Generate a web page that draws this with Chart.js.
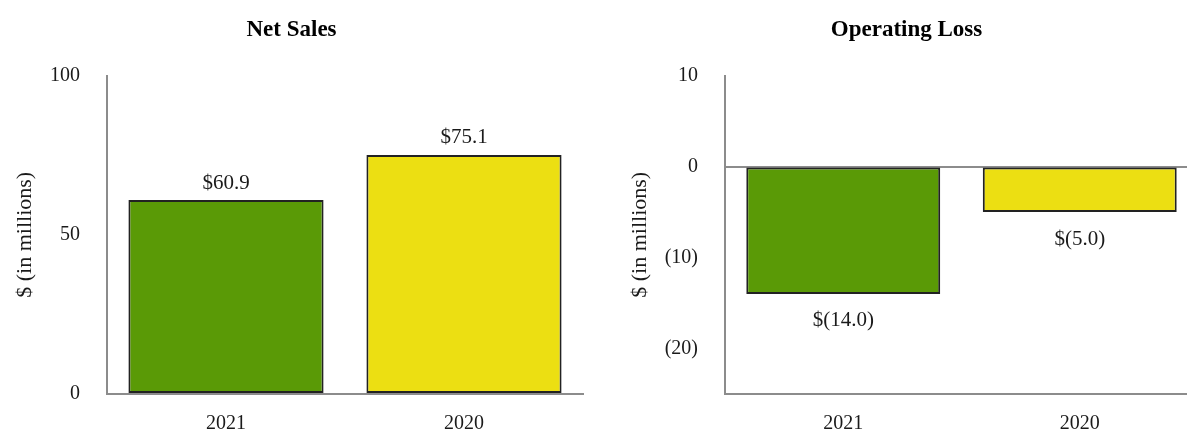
<!DOCTYPE html>
<html>
<head>
<meta charset="utf-8">
<script src="https://cdn.jsdelivr.net/npm/chart.js@4"></script>
<style>
  html, body { margin: 0; padding: 0; background: #fff; overflow: hidden; }
  body { width: 1187px; height: 431px; position: relative; }
  .box { position: absolute; top: 0; height: 433px; width: 590px; }
  #leftBox { left: 0; }
  #rightBox { left: 615px; }
</style>
</head>
<body>
<div class="box" id="leftBox"><canvas id="salesChart"></canvas></div>
<div class="box" id="rightBox"><canvas id="lossChart"></canvas></div>
<script>
// Werte
const categories = ['2021', '2020'];
const netSales = [60.9, 75.1];
const operatingLoss = [-14.0, -5.0];
const barColors = ['#5a9a06', '#ecdf12'];
const salesTicks = [0, 50, 100];
const lossTicks = [-20, -10, 0, 10];

const serif = '"Liberation Serif", "DejaVu Serif", serif';

// Zahlen im Stil von Geschäftsberichten: negative Werte in Klammern
function tickText(v) {
  return v < 0 ? `(${-v})` : `${v}`;
}
function moneyText(v) {
  return v < 0 ? `$(${(-v).toFixed(1)})` : `$${v.toFixed(1)}`;
}

// Beschriftungen über bzw. unter den Balken zeichnen
let valueLabels = {
  id: 'valueLabels',
  afterDatasetsDraw(chart) {
    let ctx = chart.ctx;
    let meta = chart.getDatasetMeta(0);
    let data = chart.data.datasets[0].data;
    ctx.save();
    ctx.font = '21px ' + serif;
    ctx.fillStyle = '#1a1a1a';
    ctx.textAlign = 'center';
    ctx.textBaseline = 'middle';
    meta.data.forEach((bar, i) => {
      let v = data[i];
      let y = v < 0 ? bar.y + 27 : bar.y - 17;
      ctx.fillText(moneyText(v), bar.x, y);
    });
    ctx.restore();
  }
};

function makeConfig(title, values, ticks, min, max, yWidth) {
  return {
    type: 'bar',
    data: {
      labels: categories,
      datasets: [{
        data: values,
        backgroundColor: barColors,
        borderColor: '#222',
        borderWidth: 2,
        borderSkipped: false,
        barPercentage: 0.82,
        categoryPercentage: 1
      }]
    },
    options: {
      responsive: true,
      maintainAspectRatio: false,
      animation: false,
      layout: { padding: { left: 0, right: 7, top: 0, bottom: 0 } },
      plugins: {
        legend: { display: false },
        tooltip: { enabled: false },
        title: {
          display: true,
          text: title,
          color: '#000',
          font: { family: serif, size: 23, weight: 'bold' },
          padding: { top: 16, bottom: 32 }
        }
      },
      scales: {
        x: {
          grid: { display: false, drawTicks: false },
          border: { color: '#8c8c8c', width: 2 },
          ticks: { color: '#1a1a1a', font: { family: serif, size: 20 }, padding: 18 },
          afterFit: scale => { scale.height = 36; }
        },
        y: {
          min: min,
          max: max,
          afterBuildTicks: scale => { scale.ticks = ticks.map(v => ({ value: v })); },
          afterFit: scale => { scale.width = yWidth; },
          grid: {
            drawTicks: false,
            color: c => (c.tick && c.tick.value === 0 && min < 0) ? '#8c8c8c' : 'rgba(0,0,0,0)',
            lineWidth: 2
          },
          border: { color: '#8c8c8c', width: 2 },
          ticks: {
            color: '#1a1a1a',
            font: { family: serif, size: 20 },
            padding: 27,
            callback: v => tickText(v)
          },
          title: {
            display: true,
            text: '$ (in millions)',
            color: '#1a1a1a',
            font: { family: serif, size: 22 },
            padding: { top: 12, bottom: 0 }
          }
        }
      }
    },
    plugins: [valueLabels]
  };
}

new Chart(document.getElementById('salesChart'),
  makeConfig('Net Sales', netSales, salesTicks, 0, 100, 107));
new Chart(document.getElementById('lossChart'),
  makeConfig('Operating Loss', operatingLoss, lossTicks, -25, 10, 110));
</script>
</body>
</html>
